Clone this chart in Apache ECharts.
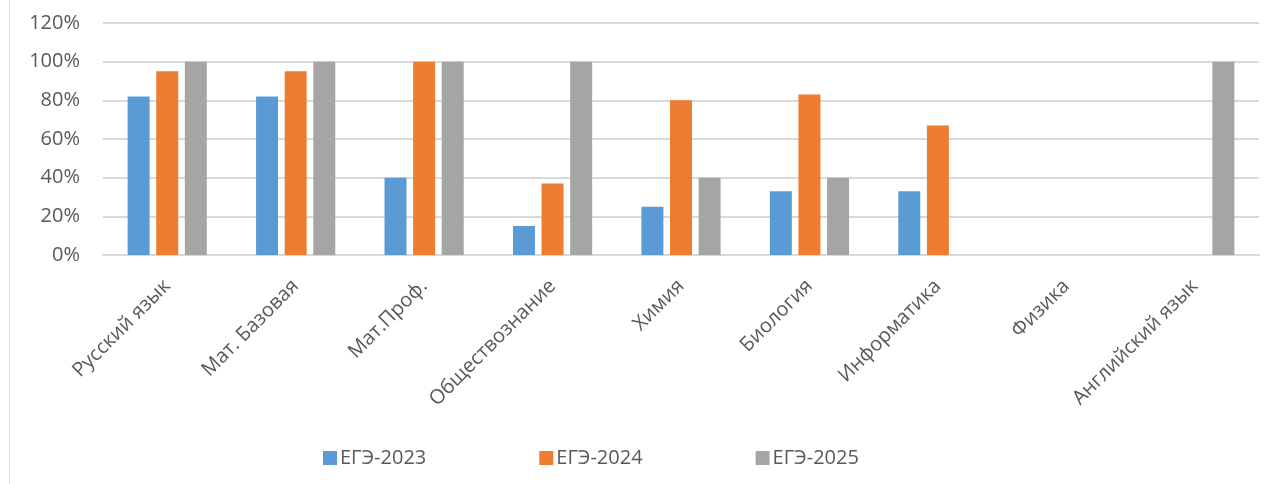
<!DOCTYPE html>
<html>
<head>
<meta charset="utf-8">
<script src="https://cdn.jsdelivr.net/npm/echarts@6/dist/echarts.min.js"></script>
<style>
html,body{margin:0;padding:0;background:#fff;}
#chart{width:1274px;height:484px;}
</style>
</head>
<body>
<div id="chart"></div>
<script>
const categories = ['Русский язык','Мат. Базовая','Мат.Проф.','Обществознание','Химия','Биология','Информатика','Физика','Английский язык'];
const seriesNames = ['ЕГЭ-2023','ЕГЭ-2024','ЕГЭ-2025'];
const ege2023 = [82, 82, 40, 15, 25, 33, 33, null, null];
const ege2024 = [95, 95, 100, 37, 80, 83, 67, null, null];
const ege2025 = [100, 100, 100, 100, 40, 40, null, null, 100];
const yTicks = [0, 20, 40, 60, 80, 100, 120];

const colors = ['#5B9BD5', '#ED7D31', '#A5A5A5'];
const font = '"Open Sans", "Noto Sans", sans-serif';
const txt = '#595959';

const chart = echarts.init(document.getElementById('chart'));
chart.setOption({
  animation: false,
  backgroundColor: '#fff',
  color: colors,
  graphic: [{
    type: 'line', shape: {x1: 9.5, y1: 0, x2: 9.5, y2: 484},
    style: {stroke: '#d9d9d9', lineWidth: 1}
  }],
  grid: {left: 103, right: 15, top: 23, bottom: 229, containLabel: false},
  legend: {
    left: 323, top: 448, padding: 0,
    itemWidth: 14, itemHeight: 14, itemGap: 113,
    icon: 'rect',
    textStyle: {color: txt, fontSize: 20, fontFamily: font, padding: [0,0,0,-2]},
    data: seriesNames
  },
  xAxis: {
    type: 'category',
    data: categories,
    axisLine: {lineStyle: {color: '#d9d9d9', width: 2}},
    axisTick: {show: false},
    axisLabel: {rotate: 45, color: txt, fontSize: 20, fontFamily: font, margin: 28, interval: 0}
  },
  yAxis: {
    type: 'value', min: yTicks[0], max: yTicks[yTicks.length-1], interval: 20,
    axisLine: {show: false}, axisTick: {show: false},
    splitLine: {lineStyle: {color: '#d9d9d9', width: 2}},
    axisLabel: {formatter: v => v + '%', color: txt, fontSize: 20, fontFamily: font, margin: 23}
  },
  series: [
    {name: seriesNames[0], type: 'bar', data: ege2023, barWidth: 22, barGap: '30%'},
    {name: seriesNames[1], type: 'bar', data: ege2024, barWidth: 22, barGap: '30%'},
    {name: seriesNames[2], type: 'bar', data: ege2025, barWidth: 22, barGap: '30%'}
  ]
});
</script>
</body>
</html>
